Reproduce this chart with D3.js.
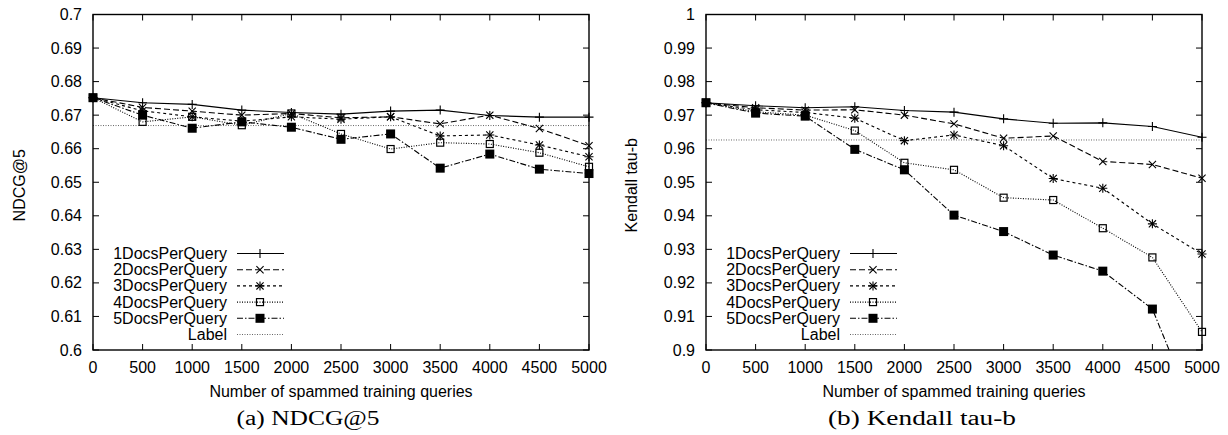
<!DOCTYPE html>
<html lang="en">
<head>
  <meta charset="utf-8">
  <script src="https://d3js.org/d3.v7.min.js"></script>
  <style>
    body { margin: 0; background: white; }
    text { font-family: "Liberation Sans", Arial, sans-serif; fill: #000; }
    .caption { font-family: "Liberation Serif", "Times New Roman", serif; }
  </style>
</head>
<body>
  <svg id="fig" width="1228" height="435"></svg>

  <script>
    // x positions
    const spamCounts = [0, 500, 1000, 1500, 2000, 2500, 3000, 3500, 4000, 4500, 5000];
    const seriesNames = ["1DocsPerQuery", "2DocsPerQuery", "3DocsPerQuery", "4DocsPerQuery", "5DocsPerQuery"];

    // (a) NDCG@5
    const ndcg1 = [0.6752, 0.6737, 0.6732, 0.6715, 0.6708, 0.6703, 0.6712, 0.6715, 0.6699, 0.6694, 0.6694];
    const ndcg2 = [0.6752, 0.6723, 0.6712, 0.6700, 0.6705, 0.6692, 0.6695, 0.6674, 0.6700, 0.6660, 0.6609];
    const ndcg3 = [0.6752, 0.6713, 0.6695, 0.6682, 0.6695, 0.6688, 0.6695, 0.6638, 0.6641, 0.6611, 0.6576];
    const ndcg4 = [0.6752, 0.6680, 0.6695, 0.6670, 0.6705, 0.6644, 0.6599, 0.6618, 0.6614, 0.6588, 0.6546];
    const ndcg5 = [0.6752, 0.6700, 0.6661, 0.6680, 0.6664, 0.6628, 0.6644, 0.6542, 0.6584, 0.6539, 0.6526];
    const ndcgLabel = 0.6669;
    const ndcgTicks = [0.6, 0.61, 0.62, 0.63, 0.64, 0.65, 0.66, 0.67, 0.68, 0.69, 0.7];

    // (b) Kendall tau-b
    const tau1 = [0.9737, 0.9728, 0.9722, 0.9725, 0.9714, 0.9709, 0.9689, 0.9676, 0.9677, 0.9666, 0.9634];
    const tau2 = [0.9737, 0.9722, 0.9715, 0.9716, 0.9700, 0.9674, 0.9631, 0.9638, 0.9562, 0.9553, 0.9512];
    const tau3 = [0.9737, 0.9716, 0.9708, 0.9691, 0.9624, 0.9641, 0.9609, 0.9511, 0.9482, 0.9376, 0.9286];
    const tau4 = [0.9737, 0.9710, 0.9700, 0.9654, 0.9558, 0.9537, 0.9454, 0.9447, 0.9363, 0.9276, 0.9054];
    const tau5 = [0.9737, 0.9706, 0.9697, 0.9598, 0.9537, 0.9402, 0.9353, 0.9283, 0.9235, 0.9122, 0.8760];
    const tauLabel = 0.9626;
    const tauTicks = [0.9, 0.91, 0.92, 0.93, 0.94, 0.95, 0.96, 0.97, 0.98, 0.99, 1];

    const lineDash = ["none", "6,3", "3,3", "1,1.5", "6,2,1.5,2"];
    const markers = ["plus", "cross", "star", "box", "filledbox"];
    const fs = 16;

    const svg = d3.select("#fig");

    function drawMarker(g, type, x, y) {
      const s = 4.5;
      if (type == "plus" || type == "star") {
        g.append("path").attr("d", `M${x-s},${y}H${x+s}M${x},${y-s}V${y+s}`)
          .attr("stroke", "#000").attr("stroke-width", 1.1);
      }
      if (type == "cross" || type == "star") {
        const c = s * 0.8;
        g.append("path").attr("d", `M${x-c},${y-c}L${x+c},${y+c}M${x-c},${y+c}L${x+c},${y-c}`)
          .attr("stroke", "#000").attr("stroke-width", 1.1);
      }
      if (type == "box") {
        g.append("rect").attr("x", x-3.5).attr("y", y-3.5).attr("width", 7).attr("height", 7)
          .attr("fill", "none").attr("stroke", "#000").attr("stroke-width", 1.2);
      }
      if (type == "filledbox") {
        g.append("rect").attr("x", x-4.5).attr("y", y-4.5).attr("width", 9).attr("height", 9)
          .attr("fill", "#000");
      }
    }

    function drawPanel(cfg) {
      const x = d3.scaleLinear().domain([0, 5000]).range([cfg.left, cfg.right]);
      const y = d3.scaleLinear().domain(cfg.domain).range([cfg.bottom, cfg.top]);
      const g = svg.append("g");

      g.append("clipPath").attr("id", cfg.id + "-clip")
        .append("rect").attr("x", cfg.left).attr("y", cfg.top)
        .attr("width", cfg.right - cfg.left).attr("height", cfg.bottom - cfg.top);

      // ticks on all four sides, pointing inward
      const tl = 6;
      cfg.ticks.forEach(t => {
        g.append("path").attr("d", `M${cfg.left},${y(t)}h${tl}M${cfg.right},${y(t)}h${-tl}`)
          .attr("stroke", "#000").attr("stroke-width", 1);
        g.append("text").attr("x", cfg.left - 11).attr("y", y(t) + 5.5)
          .attr("text-anchor", "end").attr("font-size", fs).text(d3.format("")(t));
      });
      spamCounts.forEach(t => {
        g.append("path").attr("d", `M${x(t)},${cfg.bottom}v${-tl}M${x(t)},${cfg.top}v${tl}`)
          .attr("stroke", "#000").attr("stroke-width", 1);
        g.append("text").attr("x", x(t)).attr("y", cfg.bottom + 22.5)
          .attr("text-anchor", "middle").attr("font-size", fs).text(t);
      });

      const lines = g.append("g").attr("clip-path", `url(#${cfg.id}-clip)`);

      // Label reference line
      lines.append("line").attr("x1", cfg.left).attr("x2", cfg.right)
        .attr("y1", y(cfg.label)).attr("y2", y(cfg.label))
        .attr("stroke", "#666").attr("stroke-width", 1).attr("stroke-dasharray", "1,1.5");

      const line = d3.line().x((d, i) => x(spamCounts[i])).y(d => y(d));
      cfg.series.forEach((vals, k) => {
        lines.append("path").attr("d", line(vals)).attr("fill", "none")
          .attr("stroke", "#000").attr("stroke-width", 1.1)
          .attr("stroke-dasharray", lineDash[k]);
      });
      cfg.series.forEach((vals, k) => {
        vals.forEach((v, i) => {
          if (v >= cfg.domain[0]) drawMarker(g, markers[k], x(spamCounts[i]), y(v));
        });
      });

      // frame
      g.append("rect").attr("x", cfg.left).attr("y", cfg.top)
        .attr("width", cfg.right - cfg.left).attr("height", cfg.bottom - cfg.top)
        .attr("fill", "none").attr("stroke", "#000").attr("stroke-width", 1.4);

      // legend
      const legY = 253.5, legStep = 16.2;
      const names = seriesNames.concat(["Label"]);
      names.forEach((n, k) => {
        const ly = legY + k * legStep;
        g.append("text").attr("x", cfg.legText).attr("y", ly + 5.5)
          .attr("text-anchor", "end").attr("font-size", fs).text(n);
        g.append("line").attr("x1", cfg.legText + 10).attr("x2", cfg.legText + 57)
          .attr("y1", ly).attr("y2", ly)
          .attr("stroke", k < 5 ? "#000" : "#666").attr("stroke-width", 1.1)
          .attr("stroke-dasharray", k < 5 ? lineDash[k] : "1,1.5");
        if (k < 5) drawMarker(g, markers[k], cfg.legText + 33, ly);
      });

      // axis titles
      g.append("text").attr("transform", `translate(${cfg.ylabX},${(cfg.top + cfg.bottom) / 2 + 3}) rotate(-90)`)
        .attr("text-anchor", "middle").attr("font-size", fs).text(cfg.ylabel);
      g.append("text").attr("x", (cfg.left + cfg.right) / 2).attr("y", cfg.bottom + 46.5)
        .attr("text-anchor", "middle").attr("font-size", fs).text("Number of spammed training queries");
      g.append("text").attr("class", "caption").attr("x", cfg.capX).attr("y", 425)
        .attr("text-anchor", "middle").attr("font-size", 20)
        .attr("textLength", cfg.capLen).attr("lengthAdjust", "spacingAndGlyphs")
        .text(cfg.caption);
    }

    drawPanel({
      id: "ndcg", left: 93, right: 589, top: 14.5, bottom: 350,
      domain: [0.6, 0.7], ticks: ndcgTicks, label: ndcgLabel,
      series: [ndcg1, ndcg2, ndcg3, ndcg4, ndcg5],
      legText: 227, ylabel: "NDCG@5", ylabX: 25,
      caption: "(a) NDCG@5", capX: 308, capLen: 143
    });

    drawPanel({
      id: "tau", left: 706, right: 1202, top: 14.5, bottom: 350,
      domain: [0.9, 1], ticks: tauTicks, label: tauLabel,
      series: [tau1, tau2, tau3, tau4, tau5],
      legText: 840, ylabel: "Kendall tau-b", ylabX: 637,
      caption: "(b) Kendall tau-b", capX: 922, capLen: 188
    });
  </script>
</body>
</html>
